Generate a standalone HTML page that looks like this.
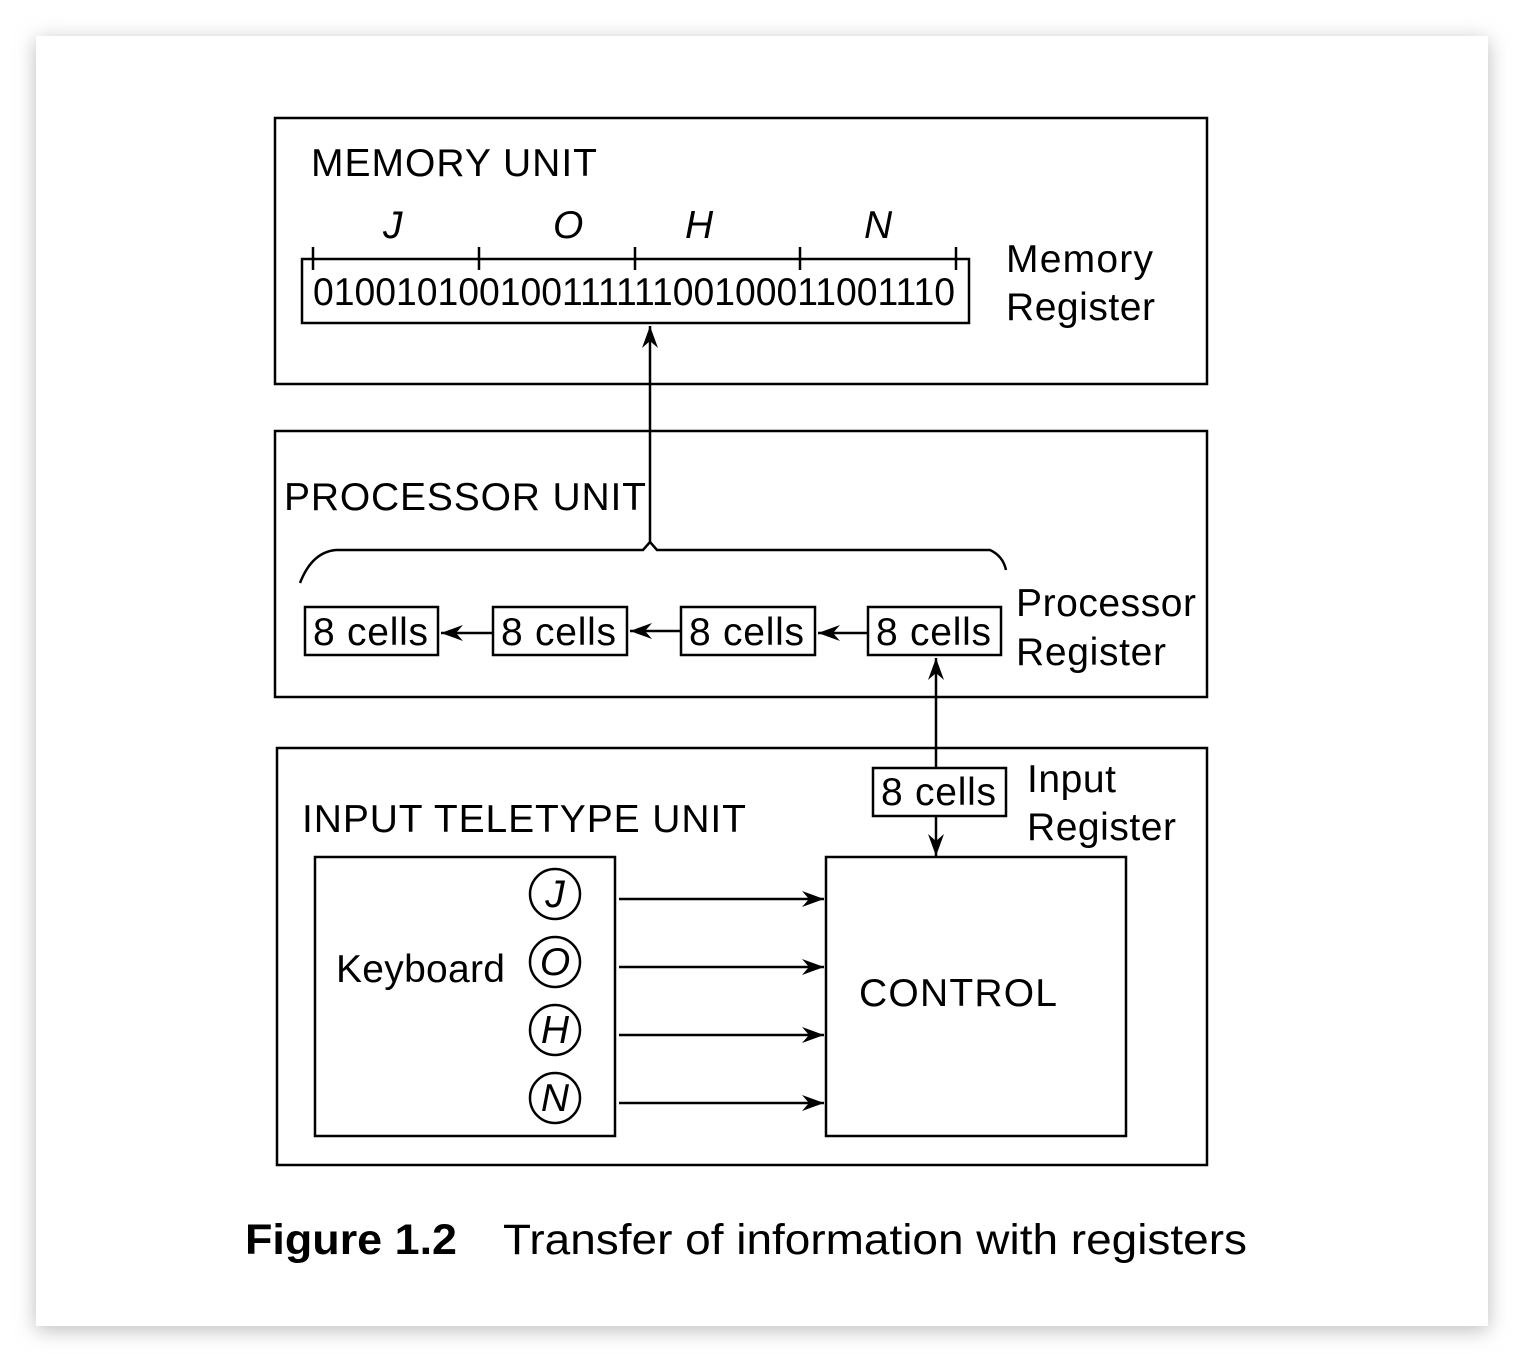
<!DOCTYPE html>
<html><head><style>
html,body{margin:0;padding:0;background:#f4f4f4;}
svg{display:block;}
text{font-family:"Liberation Sans",Arial,sans-serif;fill:#000;}
</style></head><body>
<svg width="1524" height="1362" viewBox="0 0 1524 1362" xmlns="http://www.w3.org/2000/svg">
<defs>
<filter id="sh" x="-5%" y="-5%" width="110%" height="110%"><feGaussianBlur stdDeviation="10"/></filter>
<marker id="ar" viewBox="0 0 22 16" refX="22" refY="8" markerWidth="22" markerHeight="16" markerUnits="userSpaceOnUse" orient="auto"><path d="M0,0 L22,8 L0,16 L7,8 Z" fill="#000"/></marker>
</defs>
<rect x="0" y="0" width="1524" height="1362" fill="#fff"/>
<rect x="36" y="40" width="1452" height="1290" fill="#bbb" filter="url(#sh)"/>
<rect x="36" y="36" width="1452" height="1290" fill="#fff"/>
<g fill="none" stroke="#000" stroke-width="2.5">
<rect x="275" y="118" width="932" height="266"/>
<rect x="302" y="259" width="667" height="64"/>
<path d="M313,247V270M479,247V270M635,247V270M800,247V270M956,247V270"/>
<rect x="275" y="431" width="932" height="266"/>
<path d="M300,583 Q312,552 336,550 L643,550 L650,542 L657,550 L990,550 Q1003,556 1006,570"/>
<line x1="650" y1="542" x2="650" y2="326" marker-end="url(#ar)"/>
<rect x="305" y="607" width="133" height="48"/>
<rect x="493" y="607" width="134" height="48"/>
<rect x="681" y="607" width="134" height="48"/>
<rect x="868" y="607" width="133" height="48"/>
<line x1="493" y1="633" x2="441" y2="633" marker-end="url(#ar)"/>
<line x1="681" y1="631" x2="630" y2="631" marker-end="url(#ar)"/>
<line x1="868" y1="633" x2="818" y2="633" marker-end="url(#ar)"/>
<rect x="277" y="748" width="930" height="417"/>
<rect x="873" y="768" width="133" height="48"/>
<line x1="936" y1="768" x2="936" y2="658" marker-end="url(#ar)"/>
<line x1="936" y1="816" x2="936" y2="856" marker-end="url(#ar)"/>
<rect x="826" y="857" width="300" height="279"/>
<rect x="315" y="857" width="300" height="279"/>
<circle cx="555" cy="894" r="25"/><circle cx="555" cy="962" r="25"/><circle cx="555" cy="1030" r="25"/><circle cx="555" cy="1098" r="25"/>
<line x1="619" y1="899" x2="824" y2="899" marker-end="url(#ar)"/>
<line x1="619" y1="967" x2="824" y2="967" marker-end="url(#ar)"/>
<line x1="619" y1="1035" x2="824" y2="1035" marker-end="url(#ar)"/>
<line x1="619" y1="1103" x2="824" y2="1103" marker-end="url(#ar)"/>
</g>
<g font-size="39" lengthAdjust="spacingAndGlyphs">
<text x="311" y="176" textLength="286">MEMORY UNIT</text>
<g font-style="italic"><text x="383" y="238">J</text><text x="553" y="238">O</text><text x="685" y="238">H</text><text x="864" y="238">N</text></g>
<text x="313" y="305" textLength="642" lengthAdjust="spacingAndGlyphs">01001010010011111100100011001110</text>
<text x="1006" y="272" textLength="147">Memory</text><text x="1006" y="320" textLength="149">Register</text>
<text x="284" y="510" textLength="362">PROCESSOR UNIT</text>
<text x="313" y="645" textLength="115">8 cells</text><text x="501" y="645" textLength="115">8 cells</text><text x="689" y="645" textLength="115">8 cells</text><text x="876" y="645" textLength="115">8 cells</text>
<text x="1016" y="616" textLength="180">Processor</text><text x="1016" y="665" textLength="150">Register</text>
<text x="302" y="832" textLength="444">INPUT TELETYPE UNIT</text>
<text x="881" y="805" textLength="115">8 cells</text>
<text x="1027" y="792" textLength="89">Input</text><text x="1027" y="840" textLength="149">Register</text>
<text x="336" y="982" textLength="169">Keyboard</text>
<text x="859" y="1006" textLength="198">CONTROL</text>
<g font-style="italic" text-anchor="middle"><text x="555" y="907">J</text><text x="555" y="975">O</text><text x="555" y="1043">H</text><text x="555" y="1111">N</text></g>
</g>
<text x="245" y="1254" font-size="43" font-weight="bold" fill="#222" textLength="212" lengthAdjust="spacingAndGlyphs">Figure 1.2</text>
<text x="503" y="1254" font-size="43" fill="#222" textLength="744" lengthAdjust="spacingAndGlyphs">Transfer of information with registers</text>
</svg>
</body></html>
